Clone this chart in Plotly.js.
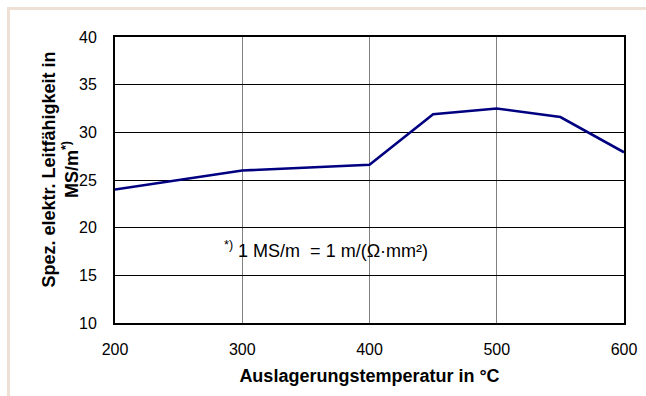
<!DOCTYPE html>
<html><head><meta charset="utf-8">
<script src="https://cdn.plot.ly/plotly-3.0.1.min.js"></script>
<style>
html,body{margin:0;padding:0;background:#fff;}
#wrap{position:relative;width:646px;height:396px;overflow:hidden;}
#frame{position:absolute;left:7px;top:7px;width:700px;height:500px;border-top:3px solid #efe0d6;border-left:3px solid #efe0d6;pointer-events:none;z-index:5;}
#chart{position:absolute;left:0;top:0;width:646px;height:396px;}
</style></head><body>
<div id="wrap"><div id="chart"></div><div id="frame"></div></div>
<script>
const temps = [200, 300, 400, 450, 500, 550, 600];
const conductivity = [24.0, 26.0, 26.6, 31.9, 32.5, 31.6, 27.9];
const xTicks = [200, 300, 400, 500, 600];
const yTicks = [10, 15, 20, 25, 30, 35, 40];
const xTitle = 'Auslagerungstemperatur in °C';
const yTitle = 'Spez. elektr. Leitfähigkeit in<br>MS/m<sup>*)</sup>';
const note = '<sup>*)</sup> 1 MS/m  = 1 m/(Ω·mm²)';

const font = '"Liberation Sans", Arial, sans-serif';
Plotly.newPlot('chart', [{
  x: temps, y: conductivity, type: 'scatter', mode: 'lines',
  line: {color: '#000080', width: 2.6}, hoverinfo: 'skip'
}], {
  width: 646, height: 396,
  margin: {l: 115, r: 22, t: 37, b: 73},
  paper_bgcolor: '#fff', plot_bgcolor: '#fff',
  showlegend: false,
  font: {family: font, size: 16, color: '#000'},
  xaxis: {
    range: [200, 600], tickvals: xTicks, ticks: '', ticklabelstandoff: 11,
    showgrid: true, gridcolor: '#808080', gridwidth: 1,
    showline: true, linecolor: '#000', linewidth: 2, mirror: true, zeroline: false,
    tickfont: {size: 16},
    title: {text: xTitle, font: {size: 18, weight: 'bold'}, standoff: 12}
  },
  yaxis: {
    range: [10, 40], tickvals: yTicks, ticks: '', ticklabelstandoff: 13,
    showgrid: true, gridcolor: '#000', gridwidth: 1,
    showline: true, linecolor: '#000', linewidth: 2, mirror: true, zeroline: false,
    tickfont: {size: 16}
  },
  annotations: [{
    xref: 'x', yref: 'y', x: 366, y: 17.7, text: note, showarrow: false,
    font: {size: 18}
  }, {
    xref: 'paper', yref: 'paper', x: -0.107, y: 0.535, text: yTitle,
    textangle: -90, showarrow: false, xanchor: 'center', yanchor: 'middle',
    font: {size: 18, weight: 'bold'}
  }]
}, {displayModeBar: false, staticPlot: true});
</script>
</body></html>
